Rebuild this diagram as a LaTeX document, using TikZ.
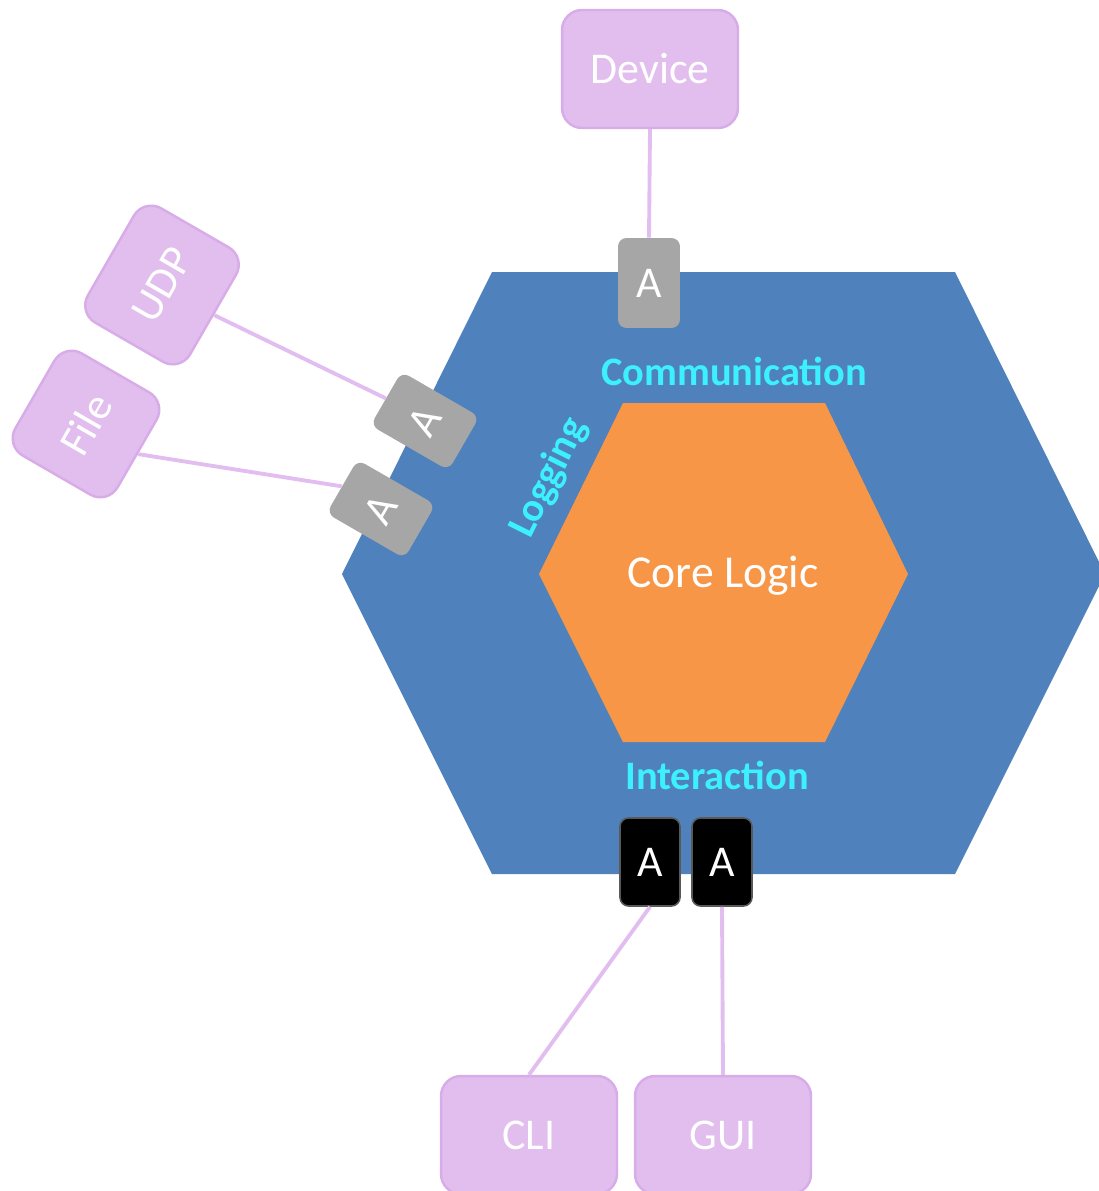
\documentclass[tikz,border=0pt]{standalone}
\usepackage{fontspec}
\setmainfont{Carlito}
\definecolor{hexblue}{RGB}{79,129,189}
\definecolor{coreorange}{RGB}{247,150,70}
\definecolor{lilac}{RGB}{225,190,237}
\definecolor{lilacedge}{RGB}{216,172,232}
\definecolor{lilacline}{RGB}{226,190,240}
\definecolor{adaptergrey}{RGB}{166,166,166}
\definecolor{labelcyan}{RGB}{60,240,252}
\tikzset{
  ext/.style={rectangle, rounded corners=0.4cm, fill=lilac, draw=lilacedge,
    line width=1.4pt, text=white, font=\fontsize{25}{30}\selectfont,
    inner sep=0pt},
  extwide/.style={ext, minimum width=3.52cm, minimum height=2.36cm},
  extsmall/.style={ext, minimum width=2.64cm, minimum height=2.36cm},
  adapter/.style={rectangle, rounded corners=0.17cm, fill=adaptergrey,
    text=white, font=\fontsize{25}{30}\selectfont, inner sep=0pt,
    minimum width=1.24cm, minimum height=1.8cm},
  adapterdark/.style={adapter, fill=black, draw=black!65, line width=0.9pt,
    minimum width=1.2cm, minimum height=1.76cm},
  link/.style={draw=lilacline, line width=2.2pt},
  layer/.style={text=labelcyan, font=\bfseries\fontsize{23}{28}\selectfont,
    inner sep=0pt}
}
\begin{document}
\begin{tikzpicture}[x=0.02cm, y=-0.02cm]
  \useasboundingbox (0,0) rectangle (1099,1191);
  \clip (0,0) rectangle (1099,1191);

  % outer application hexagon and inner core
  \fill[hexblue] (492,272) -- (955,272) -- (1105,574) -- (955,874)
    -- (492,874) -- (342,574) -- cycle;
  \fill[coreorange] (623,403) -- (825,403) -- (908,574) -- (825,742)
    -- (623,742) -- (539,574) -- cycle;
  \node[text=white, font=\fontsize{26}{31}\selectfont, inner sep=0pt]
    (core) at (723,576) {Core Logic};

  % layer labels
  \node[layer] (comm) at (734,371) {Communication};
  \node[layer] (inter) at (717,775) {Interaction};
  \node[layer, rotate=63.5] (log) at (549,478) {Logging};

  % external actors
  \node[extwide] (device) at (650,69) {Device};
  \node[extsmall, rotate=60] (udp) at (162,285) {UDP};
  \node[extsmall, rotate=60, minimum width=2.36cm, minimum height=2.36cm]
    (file) at (86,424) {File};
  \node[extwide] (cli) at (529,1135) {CLI};
  \node[extwide] (gui) at (723,1135) {GUI};

  % adapters
  \node[adapter] (adev) at (649,283) {A};
  \node[adapter, rotate=60] (audp) at (425,421) {A};
  \node[adapter, rotate=60] (afile) at (381,509) {A};
  \node[adapterdark] (acli) at (650,862) {A};
  \node[adapterdark] (agui) at (722,862) {A};

  % connectors
  \draw[link] (device.south) -- (adev.north);
  \draw[link] (udp.south) -- (audp.north);
  \draw[link] (file.south) -- (afile.north);
  \draw[link] (acli.south) -- (cli.north);
  \draw[link] (agui.south) -- (gui.north);
\end{tikzpicture}
\end{document}
